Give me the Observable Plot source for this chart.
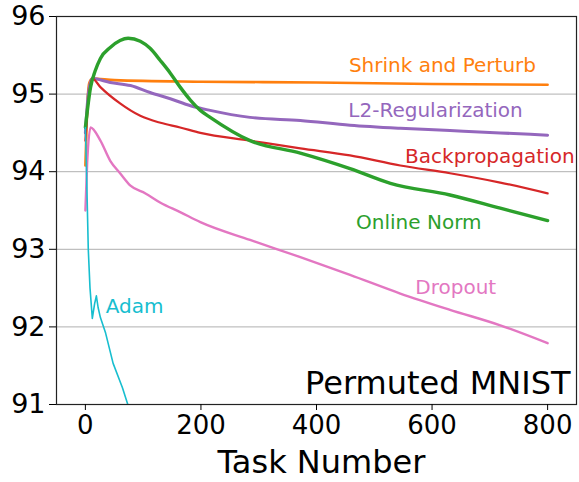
<!DOCTYPE html>
<html>
<head>
<meta charset="utf-8">
<script src="https://cdn.jsdelivr.net/npm/d3@7"></script>
<script src="https://cdn.jsdelivr.net/npm/@observablehq/plot@0.6"></script>
<style>
  html, body { margin: 0; padding: 0; background: #fff; }
</style>
</head>
<body>
<div id="chart"></div>
<script>
// ---- Data (Task Number -> accuracy %) ----
const shrinkX = [0, 3, 7, 12, 50, 200, 400, 600, 800];
const shrinkY = [94.08, 94.8, 95.15, 95.2, 95.18, 95.16, 95.15, 95.13, 95.12];

const l2X = [0, 5, 12, 43, 78, 112, 147, 182, 216, 285, 372, 458, 545, 631, 718, 800];
const l2Y = [94.5, 95.0, 95.2, 95.15, 95.11, 95.02, 94.94, 94.85, 94.79, 94.7, 94.66, 94.6, 94.56, 94.53, 94.5, 94.47];

const bpX = [0, 5, 12, 26, 60, 95, 130, 164, 199, 285, 372, 458, 545, 631, 718, 800];
const bpY = [94.4, 94.9, 95.2, 95.09, 94.88, 94.72, 94.63, 94.57, 94.5, 94.4, 94.3, 94.21, 94.08, 93.98, 93.86, 93.72];

const onX = [0, 9, 17, 26, 43, 60, 74, 95, 112, 130, 147, 164, 182, 199, 216, 285, 372, 458, 528, 631, 718, 800];
const onY = [94.57, 95.09, 95.3, 95.46, 95.6, 95.69, 95.72, 95.68, 95.59, 95.43, 95.27, 95.09, 94.92, 94.79, 94.7, 94.4, 94.24, 94.04, 93.85, 93.7, 93.53, 93.37];

const dropX = [0, 3, 9, 26, 43, 60, 78, 104, 130, 164, 199, 285, 372, 458, 545, 631, 718, 800];
const dropY = [93.5, 94.1, 94.57, 94.4, 94.14, 93.98, 93.82, 93.72, 93.6, 93.48, 93.35, 93.12, 92.9, 92.67, 92.43, 92.22, 92.02, 91.79];

const adamX = [0, 2, 5, 8, 12, 16, 19, 22, 26, 35, 48, 64, 73, 85];
const adamY = [94.57, 94.0, 93.0, 92.5, 92.11, 92.3, 92.4, 92.25, 92.12, 91.92, 91.53, 91.22, 91.01, 90.7];

const seriesNames = ["Shrink and Perturb", "L2-Regularization", "Backpropagation", "Online Norm", "Dropout", "Adam"];
const seriesColors = ["#ff7f0e", "#9467bd", "#d62728", "#2ca02c", "#e377c2", "#17becf"];
const seriesWidths = [2.6, 3, 2.2, 3.4, 2.4, 1.6];
const seriesCurves = ["monotone-x", "monotone-x", "monotone-x", "monotone-x", "monotone-x", "linear"];

// label anchor points (data units) for the in-plot series labels
const labelX = [618, 606, 700, 577, 641, 85];
const labelY = [95.37, 94.79, 94.2, 93.35, 92.51, 92.26];

const xTicks = [0, 200, 400, 600, 800];
const yTicks = [91, 92, 93, 94, 95, 96];
const gridTicks = [92, 93, 94, 95];

// ---- Build table ----
const xs = [shrinkX, l2X, bpX, onX, dropX, adamX];
const ys = [shrinkY, l2Y, bpY, onY, dropY, adamY];
const rows = [];
seriesNames.forEach((name, i) => {
  xs[i].forEach((x, j) => rows.push({series: name, x, y: ys[i][j]}));
});
const labels = seriesNames.map((name, i) => ({series: name, x: labelX[i], y: labelY[i]}));

const lineMarks = seriesNames.map((name, i) =>
  Plot.line(rows.filter(d => d.series === name), {
    x: "x", y: "y", stroke: seriesColors[i], strokeWidth: seriesWidths[i],
    curve: seriesCurves[i], clip: true, strokeLinejoin: "round"
  })
);

const chart = Plot.plot({
  width: 579,
  height: 482,
  marginLeft: 56,
  marginTop: 16,
  marginRight: 3,
  marginBottom: 78,
  style: {fontFamily: "'DejaVu Sans', Verdana, sans-serif", background: "#fff", color: "#000"},
  x: {domain: [-50, 850]},
  y: {domain: [91, 96]},
  marks: [
    Plot.ruleY(gridTicks, {stroke: "#b0b0b0", strokeWidth: 1}),
    ...lineMarks,
    Plot.text(labels, {
      x: "x", y: "y", text: "series",
      fill: (d) => seriesColors[seriesNames.indexOf(d.series)],
      fontSize: 20, textAnchor: "middle"
    }),
    Plot.frame({stroke: "#222", strokeWidth: 1.2}),
    Plot.axisX({ticks: xTicks, tickSize: 6, tickPadding: 5, fontSize: 26, label: null, tickFormat: d3.format("d")}),
    Plot.axisY({ticks: yTicks, tickSize: 7, tickPadding: 4, fontSize: 27, label: null, tickFormat: d3.format("d")}),
    Plot.text(["Task Number"], {frameAnchor: "bottom", dx: 5, dy: 68, fontSize: 32, fill: "#000"}),
    Plot.text(["Permuted MNIST"], {frameAnchor: "bottom-right", dx: -6, dy: -11, fontSize: 32, textAnchor: "end", fill: "#000"})
  ]
});
document.getElementById("chart").appendChild(chart);
</script>
</body>
</html>
